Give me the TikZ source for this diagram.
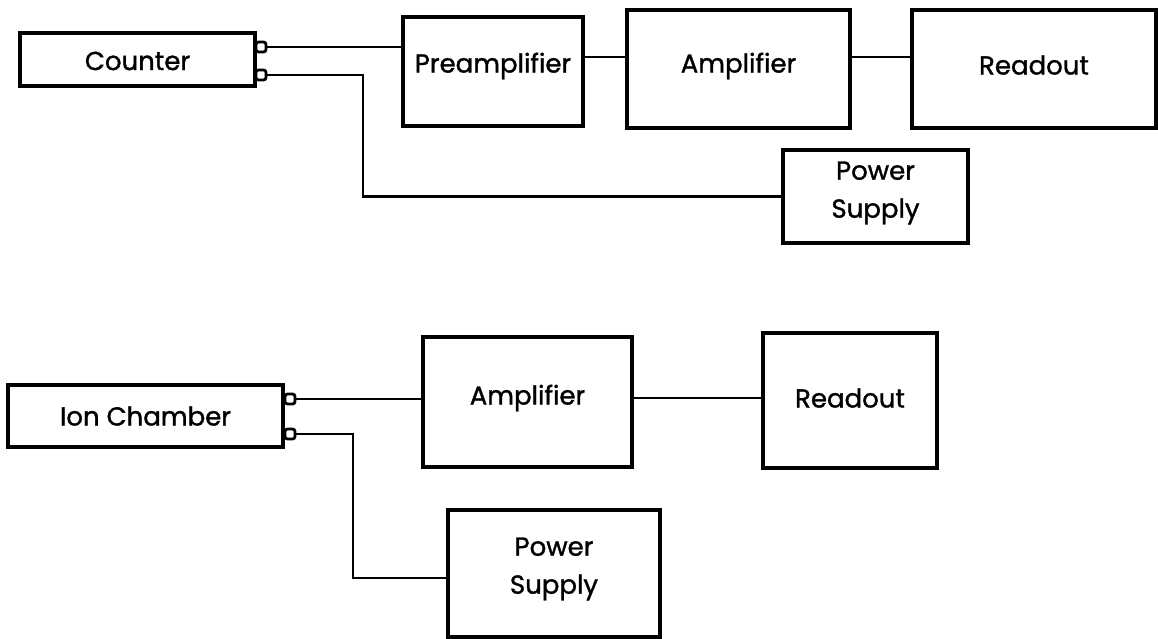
\documentclass[tikz,border=0pt]{standalone}
\usepackage{fontspec}
\setmainfont{Poppins}[RawFeature={embolden=1.3}]
\begin{document}
\begin{tikzpicture}[x=1pt,y=-1pt,
  lbl/.style={font=\fontsize{26}{38}\selectfont,align=center,inner sep=0pt},
  blk/.style={draw=black,line width=4pt,rectangle,inner sep=0pt},
  plug/.style={draw=black,line width=2.8pt,rectangle,rounded corners=2.5pt,inner sep=0pt,
    minimum width=10pt,minimum height=10pt},
  wire/.style={draw=black,line width=2.4pt}]
\useasboundingbox (0,0) rectangle (1158,639);
% top diagram
\node[blk,minimum width=235pt,minimum height=53pt] (counter) at (137.5,59.5) {};
\node[lbl] (countert) at (137.5,61) {Counter};
\node[plug] (cpa) at (261,47) {};
\node[plug] (cpb) at (261,75) {};
\node[blk,minimum width=180pt,minimum height=109pt] (pre) at (493,71.5) {};
\node[lbl] (pretext) at (493,66) {Preamplifier};
\node[blk,minimum width=223pt,minimum height=118pt] (amp1) at (738.5,69) {};
\node[lbl] (amp1t) at (738.5,66) {Amplifier};
\node[blk,minimum width=244pt,minimum height=118pt] (read1) at (1034,69) {};
\node[lbl] (read1t) at (1034,65) {Readout};
\node[blk,minimum width=185pt,minimum height=93pt] (ps1) at (875.5,196.5) {};
\node[lbl] (ps1t) at (875.5,193) {Power\\Supply};
\coordinate (k1) at (363,75);
\draw[wire] (cpa.east) -- (cpa.east -| pre.west);
\draw[wire] (cpb.east) -- (k1) |- (ps1.west);
\draw[wire] (pre.east |- 0,57) -- (amp1.west |- 0,57);
\draw[wire] (amp1.east |- 0,57) -- (read1.west |- 0,57);
% bottom diagram
\node[blk,minimum width=275pt,minimum height=62pt] (ion) at (145.5,416) {};
\node[lbl] (iont) at (145.5,416) {Ion Chamber};
\node[plug] (ipa) at (290,399) {};
\node[plug] (ipb) at (290,434) {};
\node[blk,minimum width=209pt,minimum height=130pt] (amp2) at (527.5,402) {};
\node[lbl] (amp2t) at (527.5,398) {Amplifier};
\node[blk,minimum width=174pt,minimum height=135pt] (read2) at (850,400.5) {};
\node[lbl] (read2t) at (850,398) {Readout};
\node[blk,minimum width=212pt,minimum height=127pt] (ps2) at (554,573.5) {};
\node[lbl] (ps2t) at (554,569) {Power\\Supply};
\coordinate (k2) at (353,434);
\draw[wire] (ipa.east) -- (ipa.east -| amp2.west);
\draw[wire] (ipb.east) -- (k2) |- (ps2.west |- 0,578);
\draw[wire] (amp2.east |- 0,398) -- (read2.west |- 0,398);
\end{tikzpicture}
\end{document}
